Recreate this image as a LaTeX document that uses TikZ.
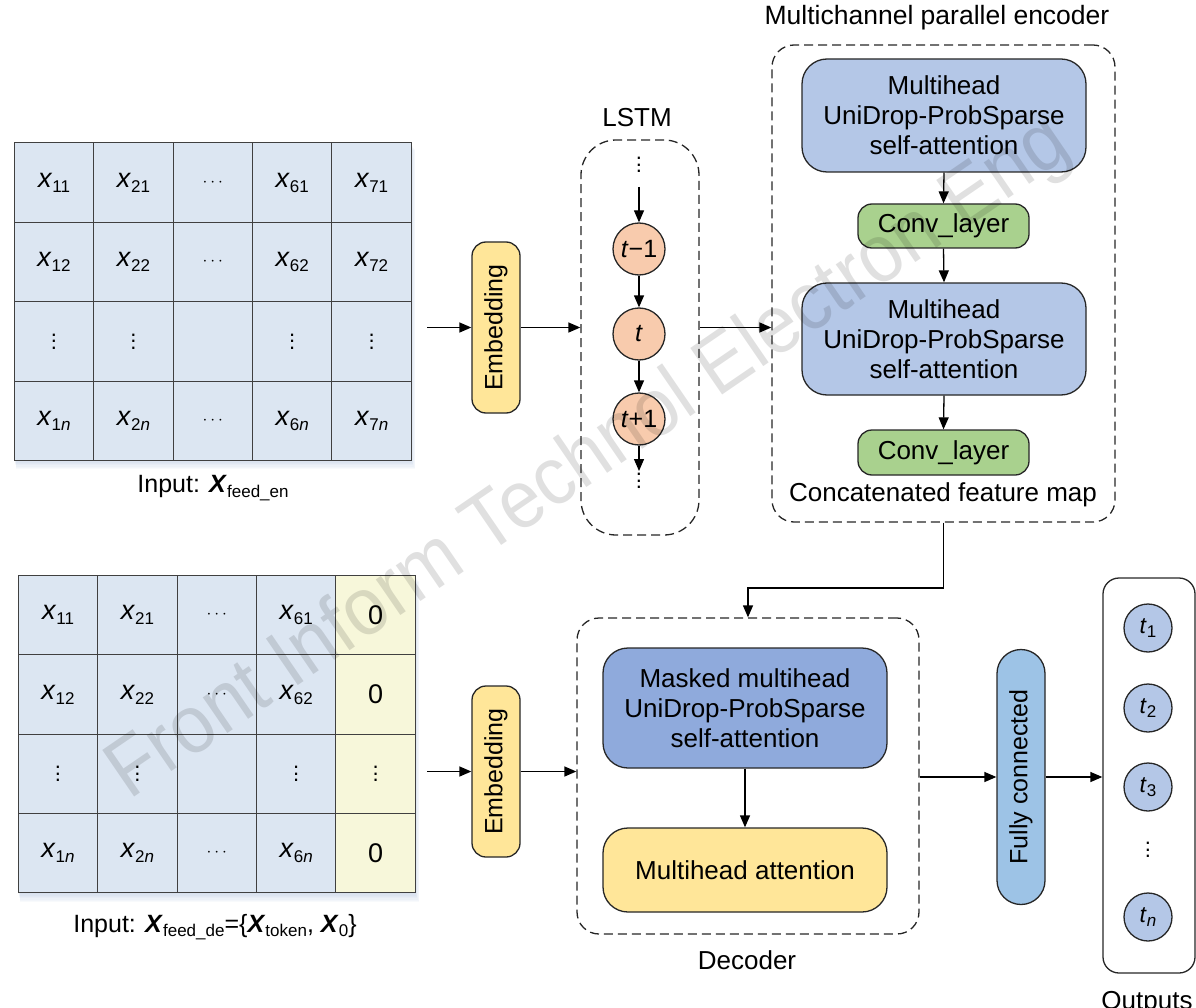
\documentclass[tikz,border=0pt]{standalone}
\usepackage{fontspec}
\setmainfont{Liberation Sans}
\usetikzlibrary{arrows.meta,calc}
\definecolor{cellblue}{HTML}{DCE6F2}
\definecolor{cellyel}{HTML}{F7F7DA}
\definecolor{embyel}{HTML}{FFE699}
\definecolor{peach}{HTML}{F8CBAD}
\definecolor{mhablue}{HTML}{B4C7E7}
\definecolor{convgreen}{HTML}{A9D18E}
\definecolor{maskblue}{HTML}{8FAADC}
\definecolor{fcblue}{HTML}{9DC3E6}
\definecolor{linecol}{HTML}{262626}
\definecolor{gridcol}{HTML}{404040}
\definecolor{shadowblue}{HTML}{7F9CC8}
\newcommand{\fs}[1]{\fontsize{#1}{#1}\selectfont}
\newcommand{\fsb}[2]{\fontsize{#1}{#2}\selectfont}
\newcommand{\msub}[1]{\raisebox{-0.35ex}{\fs{17}#1}}
\newcommand{\xx}[1]{\textit{x}\msub{#1}}
\newcommand{\bX}{\textbf{\textit{X}}}
\newcommand{\vd}{\vbox{\baselineskip=6.5pt\lineskiplimit=-10pt\hbox{.}\hbox{.}\hbox{.}}}
\newcommand{\hd}{\fs{16}$\cdots$}
\tikzset{
  cellbox/.style={draw=gridcol, line width=1.1pt, minimum width=79.4pt, minimum height=79.5pt, inner sep=0pt, font=\fs{27}},
  box/.style={draw=linecol, line width=1.3pt, align=center, font=\fsb{26}{30}, inner sep=0pt},
  arr/.style={-{Triangle[length=12pt,width=10pt]}, line width=1.3pt, draw=black},
  dashbox/.style={draw=linecol, dash pattern=on 9pt off 5pt, line width=1.3pt, inner sep=0pt},
  circ/.style={circle, draw=linecol, line width=1.3pt, inner sep=0pt, font=\fs{25}},
  lbl/.style={font=\fs{26}, inner sep=0pt},
  vdot/.style={font=\fs{22}, inner sep=0pt}
}
\begin{document}
\begin{tikzpicture}[x=1pt,y=-1pt]
\useasboundingbox (0,0) rectangle (1196,1008);

% ---------- shadows of the matrices ----------
\foreach \i in {1,...,7} {
  \fill[shadowblue, opacity=0.05] (14+0.3*\i,143+\i) rectangle (411+0.6*\i,460+1.3*\i);
  \fill[shadowblue, opacity=0.05] (18+0.3*\i,575+\i) rectangle (415+0.6*\i,893+1.3*\i);
}

% ---------- top input matrix ----------
\foreach \t [count=\c] in {{\xx{11}},{\xx{21}},{\hd},{\xx{61}},{\xx{71}}}
  \node[cellbox, fill=cellblue] (a1\c) at ({54+79.4*(\c-1)},182.5) {\t};
\foreach \t [count=\c] in {{\xx{12}},{\xx{22}},{\hd},{\xx{62}},{\xx{72}}}
  \node[cellbox, fill=cellblue] (a2\c) at ({54+79.4*(\c-1)},262) {\t};
\foreach \t [count=\c] in {{\vd},{\vd},{},{\vd},{\vd}}
  \node[cellbox, fill=cellblue, font=\fs{22}] (a3\c) at ({54+79.4*(\c-1)},341.5) {\t};
\foreach \t [count=\c] in {{\xx{1\textit{n}}},{\xx{2\textit{n}}},{\hd},{\xx{6\textit{n}}},{\xx{7\textit{n}}}}
  \node[cellbox, fill=cellblue] (a4\c) at ({54+79.4*(\c-1)},421) {\t};
\node[lbl, font=\fs{25}] (inen) at (213,488) {Input: \bX\msub{feed\_en}};

% ---------- bottom input matrix ----------
\foreach \t [count=\c] in {{\xx{11}},{\xx{21}},{\hd},{\xx{61}}}
  \node[cellbox, fill=cellblue] (b1\c) at ({58+79.4*(\c-1)},615) {\t};
\foreach \t [count=\c] in {{\xx{12}},{\xx{22}},{\hd},{\xx{62}}}
  \node[cellbox, fill=cellblue] (b2\c) at ({58+79.4*(\c-1)},694.5) {\t};
\foreach \t [count=\c] in {{\vd},{\vd},{},{\vd}}
  \node[cellbox, fill=cellblue, font=\fs{22}] (b3\c) at ({58+79.4*(\c-1)},774) {\t};
\foreach \t [count=\c] in {{\xx{1\textit{n}}},{\xx{2\textit{n}}},{\hd},{\xx{6\textit{n}}}}
  \node[cellbox, fill=cellblue] (b4\c) at ({58+79.4*(\c-1)},853) {\t};
\node[cellbox, fill=cellyel] (b15) at (375.6,615) {0};
\node[cellbox, fill=cellyel] (b25) at (375.6,694.5) {0};
\node[cellbox, fill=cellyel, font=\fs{22}] (b35) at (375.6,774) {\vd};
\node[cellbox, fill=cellyel] (b45) at (375.6,853) {0};
\node[lbl, font=\fs{25}] (inde) at (215,927) {Input: \bX\msub{feed\_de}=\{\bX\msub{token}, \bX\msub{0}\}};

% ---------- embeddings ----------
\node[box, fill=embyel, rounded corners=14pt, minimum width=48pt, minimum height=171pt] (emb1) at (496,327.5) {\rotatebox{90}{\fs{25}Embedding}};
\node[box, fill=embyel, rounded corners=14pt, minimum width=48pt, minimum height=171pt] (emb2) at (496,771.5) {\rotatebox{90}{\fs{25}Embedding}};
\coordinate (in1) at (427,327.5);
\coordinate (in2) at (427,771.5);
\draw[arr] (in1) -- (emb1.west);
\draw[arr] (in2) -- (emb2.west);

% ---------- LSTM ----------
\node[dashbox, rounded corners=35pt, minimum width=118pt, minimum height=395pt] (lstm) at (640,337.5) {};
\node[lbl] (lstmlbl) at (637,118) {LSTM};
\node[circ, fill=peach, minimum size=52pt] (c1) at (639,249) {\textit{t}−1};
\node[circ, fill=peach, minimum size=52pt] (c2) at (639,334) {\textit{t}};
\node[circ, fill=peach, minimum size=52pt] (c3) at (639,419) {\textit{t}+1};
\node[vdot] (vd1) at (639,165) {\vd};
\node[vdot] (vd2) at (639,481) {\vd};
\coordinate (la) at (639,187);
\coordinate (lb) at (639,471);
\draw[arr] (la) -- (c1.north);
\draw[arr] (c1) -- (c2);
\draw[arr] (c2) -- (c3);
\draw[arr] (c3.south) -- (lb);
\draw[arr] (emb1.east) -- (emb1.east -| lstm.west);

% ---------- encoder ----------
\node[dashbox, rounded corners=22pt, minimum width=343pt, minimum height=477pt] (enc) at (943.5,283.5) {};
\node[lbl, font=\fs{26.5}] (enclbl) at (937,18) {Multichannel parallel encoder};
\node[box, fill=mhablue, rounded corners=25pt, minimum width=284pt, minimum height=113pt] (mha1) at (944,115.5) {Multihead\\UniDrop-ProbSparse\\self-attention};
\node[box, fill=convgreen, rounded corners=14pt, minimum width=171pt, minimum height=44pt] (conv1) at (943.5,226) {Conv\_layer};
\node[box, fill=mhablue, rounded corners=25pt, minimum width=284pt, minimum height=112pt] (mha2) at (944,339) {Multihead\\UniDrop-ProbSparse\\self-attention};
\node[box, fill=convgreen, rounded corners=14pt, minimum width=171pt, minimum height=45pt] (conv2) at (943.5,452.5) {Conv\_layer};
\node[lbl] (cfm) at (943,495) {Concatenated feature map};
\draw[arr] (mha1.south) -- (conv1.north);
\draw[arr] (conv1.south) -- (mha2.north);
\draw[arr] (mha2.south) -- (conv2.north);
\draw[arr] (lstm.east |- emb1.east) -- (emb1.east -| enc.west);

% ---------- decoder ----------
\node[dashbox, rounded corners=22pt, minimum width=342pt, minimum height=316pt] (dec) at (748,776) {};
\node[lbl] (declbl) at (747,960) {Decoder};
\node[box, fill=maskblue, rounded corners=25pt, minimum width=284pt, minimum height=120pt] (mmha) at (745,708) {Masked multihead\\UniDrop-ProbSparse\\self-attention};
\node[box, fill=embyel, rounded corners=25pt, minimum width=284pt, minimum height=84pt] (mha3) at (745,870) {Multihead attention};
\draw[arr] (mmha.south) -- (mha3.north);
\coordinate (bend) at (748,588);
\draw[arr] (enc.south) |- (bend) -- (dec.north);
\draw[arr] (emb2.east) -- (emb2.east -| dec.west);

% ---------- fully connected & outputs ----------
\node[box, fill=fcblue, rounded corners=24pt, minimum width=48pt, minimum height=255pt] (fc) at (1021,777) {\rotatebox{90}{\fs{25}Fully connected}};
\node[draw=linecol, line width=1.3pt, rounded corners=16pt, minimum width=92pt, minimum height=395pt, inner sep=0pt] (out) at (1149,775.5) {};
\draw[arr] (dec.east |- fc.west) -- (fc.west);
\draw[arr] (fc.east) -- (fc.east -| out.west);
\node[circ, fill=mhablue, minimum size=48pt, font=\fs{23}] (o1) at (1148,628) {\textit{t}\msub{1}};
\node[circ, fill=mhablue, minimum size=48pt, font=\fs{23}] (o2) at (1148,708) {\textit{t}\msub{2}};
\node[circ, fill=mhablue, minimum size=48pt, font=\fs{23}] (o3) at (1148,787) {\textit{t}\msub{3}};
\node[vdot] (od) at (1148,850) {\vd};
\node[circ, fill=mhablue, minimum size=48pt, font=\fs{23}] (on) at (1148,917) {\textit{t}\msub{\textit{n}}};
\node[lbl, anchor=base] (outlbl) at (1147,1009) {Outputs};

% ---------- watermark ----------
\node[rotate=34.4, font=\fs{82}, text=black, opacity=0.12, inner sep=0pt] (wm) at (590,460) {\scalebox{0.92}[1]{Front Inform Technol Electron Eng}};
\end{tikzpicture}
\end{document}
